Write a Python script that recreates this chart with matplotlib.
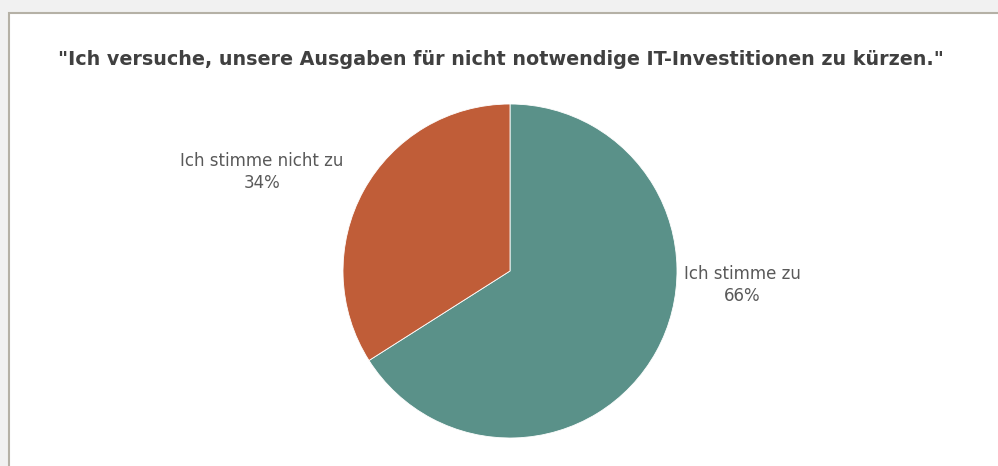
import matplotlib
matplotlib.use("Agg")
from matplotlib import pyplot as plt
from matplotlib.patches import Rectangle

# 데이터
labels = ["Ich stimme zu", "Ich stimme nicht zu"]
values = [66, 34]
colors = ["#5a9189", "#c05d38"]
title = '"Ich versuche, unsere Ausgaben für nicht notwendige IT-Investitionen zu kürzen."'

W, H = 998, 466
fig = plt.figure(figsize=(W / 100, H / 100), dpi=100)
fig.patch.set_facecolor("#f1f1f1")

# 흰색 차트 영역 + 테두리 (오른쪽/아래는 화면 밖으로)
fig.patches.append(Rectangle((9 / W, -0.1), 1.2, (H - 13) / H + 0.1, transform=fig.transFigure,
                             facecolor="white", edgecolor="#b5b1a6", linewidth=1.5,
                             zorder=-5))

# 파이 영역 (중심 510,271 / 반지름 167 px)
cx, cy, r = 510, 271, 167
ax = fig.add_axes([(cx - r) / W, (H - cy - r) / H, 2 * r / W, 2 * r / H])
ax.set_zorder(2)
ax.patch.set_visible(False)
ax.pie(values, colors=colors, startangle=90, counterclock=False, radius=1.0,
       wedgeprops=dict(linewidth=0.6, edgecolor="white"))
ax.set_xlim(-1, 1)
ax.set_ylim(-1, 1)
ax.set_aspect("equal")
ax.axis("off")

# 레이블
label_pos = [(742, 285), (262, 172)]
for (px, py), name, v in zip(label_pos, labels, values):
    fig.text(px / W, 1 - py / H, f"{name}\n{v}%", ha="center", va="center",
             fontsize=12, color="#595959", linespacing=1.3, zorder=3)

fig.text(501 / W, 1 - 60 / H, title, ha="center", va="center",
         fontsize=13.8, fontweight="bold", color="#404040", zorder=3)

plt.savefig("out.png", dpi=100, facecolor=fig.get_facecolor())
